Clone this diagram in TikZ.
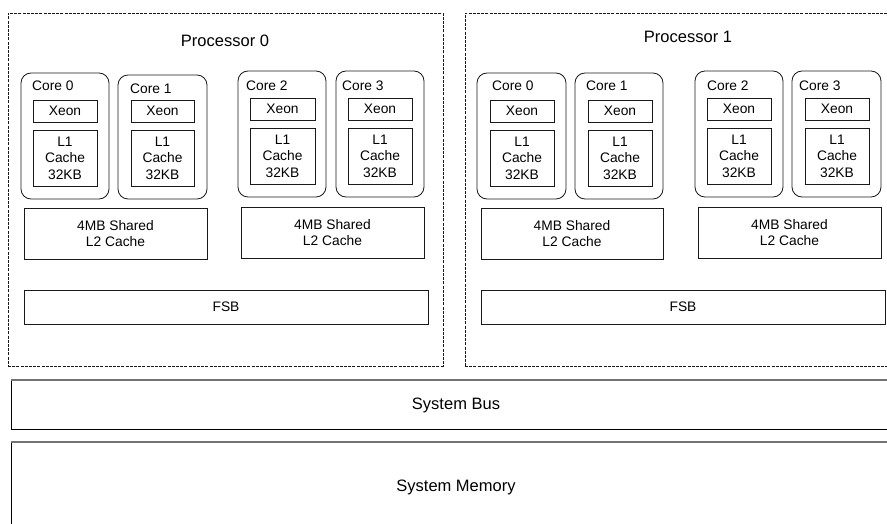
\documentclass[tikz,border=0pt]{standalone}
\usepackage{fontspec}
\setmainfont{Liberation Sans}
\newcommand\bx[7]{\node[#2, minimum width={(#5)-(#3)}, minimum height={(#6)-(#4)}] (#1) at ({(#3+#5)/2},{(#4+#6)/2}) {#7};}
\begin{document}
\begin{tikzpicture}[x=1pt,y=-1pt,
  box/.style={draw=black!90, line width=0.85pt, inner sep=0pt, outer sep=0pt, align=center, font=\fontsize{13.8}{16.5}\selectfont},
  corebox/.style={box, rounded corners=10pt},
  procbox/.style={draw=black!90, line width=0.8pt, dash pattern=on 3pt off 1.2pt, inner sep=0pt, outer sep=0pt},
  lbl/.style={anchor=west, inner sep=0pt, font=\fontsize{13.8}{16.5}\selectfont},
  title/.style={inner sep=0pt, font=\fontsize{16.5}{19}\selectfont},
  sysbox/.style={draw=black, line width=0.9pt, inner sep=0pt, outer sep=0pt},
  topedge/.style={draw=black!55, line width=2pt}]
\useasboundingbox (0,0) rectangle (887,523);
\clip (0,0) rectangle (887,523);
% Processor 0
\bx{proc0}{procbox}{8}{13}{443}{366}{}
\node[title] (t0) at (225,41) {Processor 0};
\bx{c00}{corebox}{21}{73}{109}{199}{}
\bx{x00}{box}{33}{100}{97}{122}{Xeon}
\bx{l00}{box}{33}{130}{97}{186}{L1\\Cache\\32KB}
\node[lbl] (n00) at (32,86) {Core 0};
\bx{c01}{corebox}{118}{75}{207}{199}{}
\bx{x01}{box}{131}{100}{194}{122}{Xeon}
\bx{l01}{box}{131}{130}{194}{186}{L1\\Cache\\32KB}
\node[lbl] (n01) at (130,89) {Core 1};
\bx{c02}{corebox}{238}{71}{326}{197}{}
\bx{x02}{box}{250}{98}{315}{120}{Xeon}
\bx{l02}{box}{250}{128}{315}{184}{L1\\Cache\\32KB}
\node[lbl] (n02) at (246,86) {Core 2};
\bx{c03}{corebox}{336}{71}{424}{197}{}
\bx{x03}{box}{348}{98}{412}{120}{Xeon}
\bx{l03}{box}{348}{128}{412}{184}{L1\\Cache\\32KB}
\node[lbl] (n03) at (342,86) {Core 3};
\bx{s0a}{box}{24}{208}{207}{259}{4MB Shared\\L2 Cache}
\bx{s0b}{box}{241}{207}{424}{258}{4MB Shared\\L2 Cache}
\bx{f0}{box}{24}{290}{428}{324}{FSB}
% Processor 1
\bx{proc1}{procbox}{465}{13}{905}{366}{}
\node[title] (t1) at (688,37) {Processor 1};
\bx{c10}{corebox}{477}{73}{566}{199}{}
\bx{x10}{box}{490}{100}{554}{122}{Xeon}
\bx{l10}{box}{490}{130}{554}{186}{L1\\Cache\\32KB}
\node[lbl] (n10) at (492,86) {Core 0};
\bx{c11}{corebox}{575}{73}{663}{199}{}
\bx{x11}{box}{588}{100}{652}{122}{Xeon}
\bx{l11}{box}{588}{130}{652}{186}{L1\\Cache\\32KB}
\node[lbl] (n11) at (586,86) {Core 1};
\bx{c12}{corebox}{695}{71}{783}{197}{}
\bx{x12}{box}{707}{98}{771}{120}{Xeon}
\bx{l12}{box}{707}{128}{771}{184}{L1\\Cache\\32KB}
\node[lbl] (n12) at (707,86) {Core 2};
\bx{c13}{corebox}{792}{71}{881}{197}{}
\bx{x13}{box}{805}{98}{869}{120}{Xeon}
\bx{l13}{box}{805}{128}{869}{184}{L1\\Cache\\32KB}
\node[lbl] (n13) at (799,86) {Core 3};
\bx{s1a}{box}{481}{208}{663}{259}{4MB Shared\\L2 Cache}
\bx{s1b}{box}{698}{207}{881}{258}{4MB Shared\\L2 Cache}
\bx{f1}{box}{481}{290}{885}{324}{FSB}
% System
\bx{bus}{sysbox}{11}{380}{901}{429}{}
\draw[topedge] (bus.north west) -- (bus.north east);
\node[title] (tbus) at (456,405) {System Bus};
\bx{mem}{sysbox}{11}{442}{901}{560}{}
\draw[topedge] (mem.north west) -- (mem.north east);
\node[title] (tmem) at (456,487) {System Memory};
\end{tikzpicture}
\end{document}
